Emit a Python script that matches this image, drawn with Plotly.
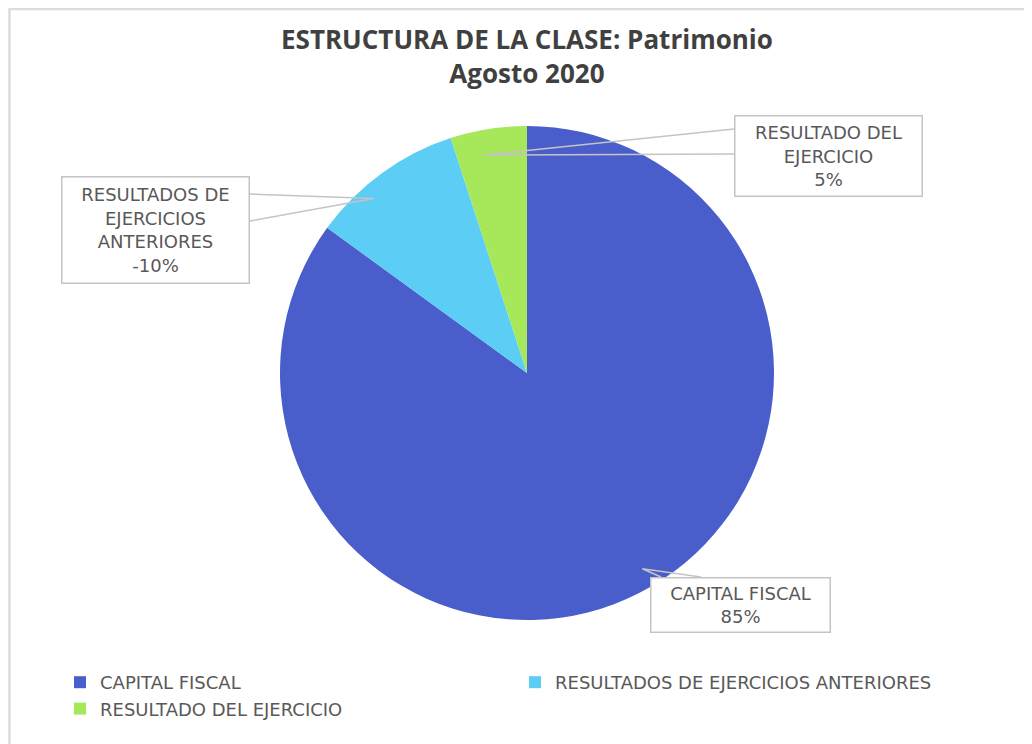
import math
import plotly.graph_objects as go

# ---- data ----
categories = ["CAPITAL FISCAL", "RESULTADOS DE EJERCICIOS ANTERIORES", "RESULTADO DEL EJERCICIO"]
values = [85, 10, 5]
shown_pct = ["85%", "-10%", "5%"]
label_lines = ["CAPITAL FISCAL", "RESULTADOS DE<br>EJERCICIOS<br>ANTERIORES", "RESULTADO DEL<br>EJERCICIO"]
colors = ["#4a5ecb", "#5ccdf4", "#a6e85a"]
title_lines = ["ESTRUCTURA DE LA CLASE: Patrimonio", "Agosto 2020"]

W, H = 1032, 744
OFF = 8  # page body margin offset


def px(x):
    return (x - OFF) / W


def py(y):
    return 1 - (y - OFF) / H


cx, cy, R = 527, 373, 247  # pie centre/radius in page px

fig = go.Figure(go.Pie(
    labels=categories,
    values=values,
    sort=False,
    direction="clockwise",
    rotation=0,
    marker=dict(colors=colors, line=dict(width=0)),
    textinfo="none",
    hoverinfo="label+percent",
    domain=dict(x=[px(cx - R), px(cx + R)], y=[py(cy + R), py(cy - R)]),
))

# label boxes (centre positions in page px) and sizes
box_pos = [(740.5, 605), (155.5, 230), (828.5, 156)]
box_size = [(181, 56), (189, 108), (189, 82)]
anchor_r = [0.92, 0.94, 0.9]
anchor_shift = [-3.5, -5.3, -2.4]  # degrees
# callout wedge attachment: side of box and two offsets along that side (px from box start)
callout = [("top", 11, 51), ("right", 18, 45), ("left", 14, 39)]

total = sum(values)
start = 0.0
for i, v in enumerate(values):
    mid = start + v / total * 360 / 2 + anchor_shift[i]
    start += v / total * 360
    th = math.radians(mid)
    ax_ = cx + anchor_r[i] * R * math.sin(th)
    ay_ = cy - anchor_r[i] * R * math.cos(th)
    bx, by = box_pos[i]
    bw, bh = box_size[i]
    left, top = bx - bw / 2, by - bh / 2
    side, o1, o2 = callout[i]
    if side == "top":
        p1, p2 = (left + o1, top), (left + o2, top)
    elif side == "right":
        p1, p2 = (left + bw, top + o1), (left + bw, top + o2)
    else:
        p1, p2 = (left, top + o1), (left, top + o2)
    path = "M {} {} L {} {} L {} {}".format(px(p1[0]), py(p1[1]), px(ax_), py(ay_), px(p2[0]), py(p2[1]))
    fig.add_shape(type="path", xref="paper", yref="paper", path=path,
                  line=dict(color="#c4c4c4", width=1.5))
    fig.add_annotation(
        x=px(bx), y=py(by), xref="paper", yref="paper", xanchor="center", yanchor="middle",
        text=label_lines[i] + "<br>" + shown_pct[i], showarrow=False,
        font=dict(family="DejaVu Sans", size=18, color="#595959"),
        bordercolor="#c4c4c4", borderwidth=1.5, borderpad=0,
        bgcolor="white", width=bw - 3, height=bh - 3,
        align="center", valign="middle",
    )

# title
fig.add_annotation(
    x=px(527), y=py(56), xref="paper", yref="paper", xanchor="center", yanchor="middle",
    text="<b>" + "<br>".join(title_lines) + "</b>", showarrow=False,
    font=dict(family="Open Sans, DejaVu Sans", size=26, color="#404040"),
)

# frame shapes
fig.add_shape(type="line", xref="paper", yref="paper", x0=px(9), x1=1, y0=1 - 1 / H, y1=1 - 1 / H,
              line=dict(color="#dcdcdc", width=2.5))
fig.add_shape(type="line", xref="paper", yref="paper", x0=px(9.5), x1=px(9.5), y0=0, y1=1,
              line=dict(color="#dcdcdc", width=2.5))

fig.update_layout(
    width=W, height=H,
    margin=dict(l=0, r=0, t=0, b=0),
    paper_bgcolor="white",
    showlegend=True,
    legend=dict(
        orientation="h", x=px(60), xanchor="left", y=py(664), yanchor="top",
        entrywidth=410, entrywidthmode="pixels",
        font=dict(family="DejaVu Sans", size=18, color="#595959"),
        itemwidth=30,
    ),
)

fig.write_html("out.html")
